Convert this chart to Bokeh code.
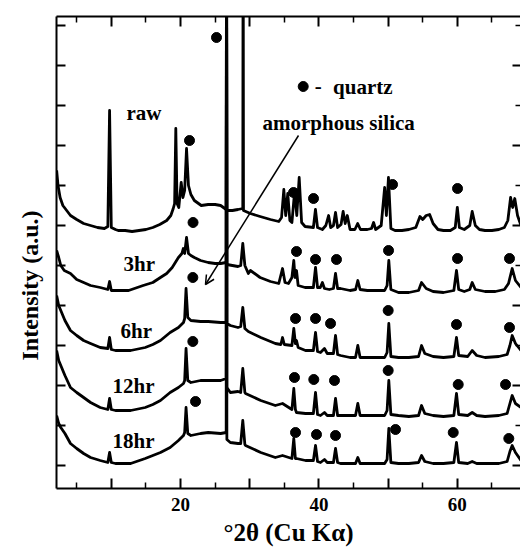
from bokeh.plotting import figure
from bokeh.models import Range1d, LinearAxis, FixedTicker, Label, Arrow, OpenHead, Title
from bokeh.embed import file_html
from bokeh.resources import INLINE

SERIF = "Liberation Serif"

# ---------------- data (2theta in degrees, intensity in a.u.) ----------------
raw_2theta = [2.1, 2.3, 2.6, 3.0, 4.1, 5.0, 6.0, 7.0, 8.0, 9.0, 9.5, 9.75, 10.0, 10.6, 11.0, 12.0,
              13.0, 14.0, 15.0, 16.0, 17.0, 18.0, 18.6, 18.95, 19.15, 19.32, 19.5, 19.75, 20.1,
              20.35, 20.6, 20.87, 21.15, 21.5, 22.0, 23.0, 24.0, 25.0, 25.8, 26.6, 26.65, 26.7,
              27.5, 28.3, 29.0, 29.05, 29.1, 30.1, 31.5, 33.0, 34.2, 34.6, 34.93, 35.2, 35.5,
              35.8, 36.1, 36.5, 36.8, 37.15, 37.5, 38.0, 39.2, 39.5, 39.8, 40.5, 41.0, 41.4, 41.7,
              42.1, 42.4, 42.7, 43.2, 43.5, 43.8, 44.1, 44.5, 45.2, 45.6, 46.0, 47.0, 47.6, 47.9,
              48.2, 49.0, 49.5, 49.75, 50.05, 50.4, 51.0, 52.0, 53.0, 54.0, 54.6, 55.0, 55.5, 56.0,
              56.5, 57.2, 58.0, 59.0, 59.7, 60.0, 60.3, 61.0, 61.8, 62.15, 62.6, 63.2, 64.0, 65.0,
              66.0, 66.8, 67.3, 67.7, 68.0, 68.3, 68.7, 69.2]
raw_int = [295, 280, 268, 260, 250, 246, 242, 240, 238, 237, 239, 355, 238, 236, 235, 235,
           234, 235, 236, 238, 241, 245, 250, 257, 262, 337, 262, 258, 283,
           268, 275, 317, 280, 271, 265, 260, 261, 261, 260, 256, 600, 255,
           255, 256, 257, 600, 255, 252, 249, 246, 244, 248, 276, 250, 272,
           245, 243, 275, 250, 288, 243, 239, 238, 256, 238, 236, 240, 250, 238,
           240, 253, 238, 241, 254, 242, 250, 236, 236, 242, 236, 236, 237, 243,
           236, 240, 278, 250, 288, 237, 235, 235, 236, 238, 249, 246, 250, 251,
           242, 236, 235, 235, 238, 258, 238, 236, 240, 254, 240, 236, 235, 235,
           236, 238, 245, 268, 258, 267, 250, 240]

h3_2theta = [2.1, 2.4, 2.7, 3.2, 4.1, 5.0, 6.0, 7.0, 8.4, 9.5, 9.75, 10.0, 11.0, 12.5, 14.6, 16.0,
             17.1, 18.0, 18.8, 19.7, 20.2, 20.4, 20.6, 20.87, 21.15, 21.5, 22.0, 22.9, 24.0, 25.0,
             25.8, 26.6, 26.65, 26.7, 27.5, 28.3, 28.7, 29.0, 29.3, 29.8, 30.1, 31.5, 33.0, 34.2,
             34.74, 35.1, 35.6, 36.1, 36.37, 36.55, 36.76, 37.0, 38.0, 39.2, 39.51, 39.8, 40.2,
             40.5, 40.8, 41.5, 42.1, 42.4, 42.7, 43.12, 44.5, 45.3, 45.62, 45.95, 47.0, 48.0, 49.5,
             49.85, 50.1, 50.4, 51.5, 53.0, 54.4, 54.83, 55.5, 56.5, 58.0, 59.5, 59.88, 60.2, 61.0,
             61.8, 62.15, 62.6, 64.0, 65.5, 66.8, 67.4, 67.93, 68.4, 69.2]
h3_int = [215, 208, 200, 195, 192, 186, 183, 180, 178, 176, 184, 175, 175, 175, 180, 183,
          188, 192, 198, 208, 212, 217, 212, 228, 212, 210, 208, 205, 203, 202,
          202, 203, 600, 201, 200, 199, 200, 222, 200, 192, 195, 188, 184, 182,
          197, 183, 182, 188, 205, 188, 195, 180, 178, 178, 198, 178, 178,
          183, 177, 176, 177, 192, 177, 177, 175, 176, 185, 176, 175, 175, 175,
          180, 205, 176, 173, 173, 175, 183, 177, 174, 173, 175, 195, 176, 174,
          176, 183, 176, 174, 174, 176, 182, 197, 185, 178]

h6_2theta = [2.1, 2.4, 2.7, 3.3, 4.1, 5.0, 6.0, 7.0, 8.4, 9.5, 9.75, 10.0, 10.6, 12.8, 14.9, 16.0,
             17.1, 18.5, 19.7, 20.43, 20.6, 20.8, 21.05, 21.5, 22.9, 24.0, 25.8, 26.6, 26.65,
             26.7, 27.2, 28.3, 28.7, 29.0, 29.3, 29.8, 31.6, 33.7, 34.5, 34.74, 35.0, 36.1, 36.37,
             36.6, 36.76, 37.0, 38.06, 39.2, 39.51, 39.8, 40.23, 40.8, 41.2, 42.1, 42.4, 42.7,
             43.12, 44.5, 45.29, 45.62, 45.95, 47.0, 49.5, 49.85, 50.1, 50.4, 51.5, 53.0, 54.4,
             54.83, 55.3, 56.5, 58.0, 59.5, 59.88, 60.2, 61.5, 62.15, 62.8, 64.0, 66.0, 67.2, 67.6,
             67.93, 68.4, 69.2]
h6_int = [170, 160, 155, 145, 135, 130, 125, 122, 118, 117, 128, 116, 115, 115, 118, 121,
          125, 133, 138, 143, 147, 177, 148, 145, 144, 144, 143, 143, 600,
          142, 140, 138, 139, 158, 137, 134, 128, 122, 121, 128, 121, 120, 137,
          122, 125, 118, 115, 115, 133, 114, 113, 117, 112, 112, 130, 111,
          110, 108, 108, 120, 108, 108, 108, 113, 142, 109, 108, 108, 109,
          120, 112, 109, 108, 109, 128, 110, 109, 115, 110, 108, 109, 111, 120,
          130, 122, 115]

h12_2theta = [2.1, 2.4, 2.7, 3.3, 4.1, 5.0, 6.0, 7.0, 8.4, 9.5, 9.75, 10.0, 10.6, 12.8, 14.9, 16.0,
              17.1, 18.5, 19.7, 20.43, 20.6, 20.8, 21.05, 21.5, 22.9, 24.0, 25.8, 26.6, 26.65,
              26.7, 27.2, 28.3, 28.7, 29.0, 29.3, 29.4, 31.6, 33.7, 34.74, 36.1, 36.37, 36.6,
              36.76, 38.06, 39.2, 39.51, 39.8, 40.23, 40.8, 41.2, 42.1, 42.4, 42.7, 43.12, 45.29,
              45.62, 45.95, 47.0, 49.5, 49.85, 50.1, 50.4, 51.5, 53.0, 54.4, 54.83, 55.3, 56.5,
              58.0, 59.5, 59.88, 60.2, 61.5, 62.15, 62.8, 64.0, 66.0, 67.2, 67.6, 67.93, 68.4, 69.2]
h12_int = [115, 105, 100, 90, 78, 73, 68, 63, 58, 56, 67, 56, 55, 55, 58, 61,
           65, 73, 78, 82, 85, 117, 85, 83, 85, 85, 85, 87, 600,
           78, 73, 74, 73, 97, 73, 72, 65, 60, 62, 56, 77, 56,
           53, 52, 52, 73, 51, 50, 53, 50, 50, 67, 50, 50, 50,
           62, 50, 50, 50, 55, 85, 51, 50, 49, 50, 60, 52, 50,
           49, 50, 72, 51, 50, 53, 50, 49, 50, 52, 62, 70, 62, 58]

h18_2theta = [2.1, 2.4, 2.7, 3.3, 4.1, 5.0, 6.0, 7.0, 8.4, 9.5, 9.75, 10.0, 10.6, 12.8, 14.9, 16.0,
              17.1, 18.5, 19.7, 20.43, 20.6, 20.8, 21.05, 21.5, 22.9, 24.0, 25.8, 26.6, 26.65,
              26.7, 27.2, 28.3, 28.7, 29.0, 29.3, 29.4, 31.6, 33.7, 34.74, 36.1, 36.37, 36.6,
              36.76, 38.06, 39.2, 39.51, 39.8, 40.23, 40.8, 41.2, 42.1, 42.4, 42.7, 43.12, 45.29,
              45.62, 45.95, 47.0, 49.5, 49.85, 50.1, 50.4, 51.5, 53.0, 54.4, 54.83, 55.3, 56.5,
              58.0, 59.5, 59.88, 60.2, 61.5, 62.15, 62.8, 64.0, 66.0, 67.2, 67.6, 67.93, 68.4, 69.2]
h18_int = [50, 42, 38, 32, 22, 17, 12, 8, 5, 3, 13, 3, 2, 2, 7, 10,
           13, 18, 25, 30, 33, 58, 32, 30, 32, 33, 32, 33, 600,
           26, 23, 22, 22, 45, 21, 20, 13, 8, 10, 7, 27, 7,
           7, 5, 5, 20, 4, 3, 6, 3, 3, 17, 3, 2, 2,
           8, 2, 2, 2, 6, 37, 3, 2, 2, 3, 10, 4, 2,
           2, 3, 23, 3, 2, 4, 2, 2, 2, 4, 14, 20, 13, 5]

# quartz reflection markers for each pattern
raw_qz_2theta = [25.2, 21.3, 36.33, 39.22, 50.64, 60.03]
raw_qz_int = [428, 325, 273, 267, 281, 277]
h3_qz_2theta = [21.81, 36.76, 39.51, 42.54, 50.06, 60.03, 67.54]
h3_qz_int = [243, 214, 206, 206, 215, 207, 207]
h6_qz_2theta = [21.78, 36.62, 39.51, 41.68, 50.01, 59.88, 67.54]
h6_qz_int = [188, 147, 147, 142, 155, 141, 138]
h12_qz_2theta = [21.78, 36.47, 39.26, 42.25, 50.01, 60.13, 66.97]
h12_qz_int = [124, 88, 86, 85, 95, 81, 81]
h18_qz_2theta = [22.17, 36.62, 39.65, 42.4, 51.07, 59.41, 67.44]
h18_qz_int = [64, 33, 31, 30, 36, 33, 27]

sample_names = ["raw", "3hr", "6hr", "12hr", "18hr"]

x_major_ticks = [10, 20, 30, 40, 50, 60]
x_minor_ticks = [5, 15, 25, 35, 45, 55, 65]
x_tick_labels = {10: "", 20: "20", 30: "", 40: "40", 50: "", 60: "60"}
y_left_ticks = [0, 40, 80, 120, 160, 200, 240, 280, 320, 360, 400, 440]
y_right_major = [0, 80, 160, 240, 320, 400]
y_right_minor = [40, 120, 200, 280, 360, 440]

# ---------------- figure ----------------
p = figure(width=520, height=551, output_backend="svg", toolbar_location=None, title=None,
           x_range=Range1d(2.08, 69.13), y_range=Range1d(-23, 449),
           x_axis_type=None, y_axis_type=None,
           min_border_left=56, min_border_right=0, min_border_top=16, min_border_bottom=63)
p.outline_line_color = None
p.background_fill_color = "white"
p.border_fill_color = "white"


def style_axis(ax, tick_in, minor_in, labels, line=True):
    ax.major_tick_in = tick_in
    ax.major_tick_out = 0
    ax.minor_tick_in = minor_in
    ax.minor_tick_out = 0
    ax.axis_line_width = 2
    ax.axis_line_color = "black" if line else None
    ax.major_tick_line_width = 2
    ax.minor_tick_line_width = 1.5
    ax.major_label_overrides = labels
    ax.major_label_text_font = SERIF
    ax.major_label_text_font_style = "bold"
    ax.major_label_text_font_size = "19px"
    ax.major_label_text_color = "black"


bottom = LinearAxis(ticker=FixedTicker(ticks=x_major_ticks, minor_ticks=x_minor_ticks))
style_axis(bottom, 10, 6, x_tick_labels)
bottom.major_label_standoff = 9
bottom.axis_label = "°2θ (Cu Kα)"
bottom.axis_label_text_font = SERIF
bottom.axis_label_text_font_style = "bold"
bottom.axis_label_text_font_size = "25px"
bottom.axis_label_text_color = "black"
bottom.axis_label_standoff = 5
p.add_layout(bottom, "below")

top = LinearAxis(ticker=FixedTicker(ticks=x_major_ticks, minor_ticks=x_minor_ticks))
style_axis(top, 10, 6, {t: "" for t in x_major_ticks})
top.major_label_standoff = 0
p.add_layout(top, "above")

left = LinearAxis(ticker=FixedTicker(ticks=y_left_ticks, minor_ticks=[]))
style_axis(left, 9, 0, {t: "" for t in y_left_ticks})
left.major_label_standoff = 0
p.add_layout(left, "left")

right = LinearAxis(ticker=FixedTicker(ticks=y_right_major, minor_ticks=y_right_minor))
style_axis(right, 8, 5, {t: "" for t in y_right_major}, line=False)
right.major_label_standoff = 0
p.add_layout(right, "right")

ytitle = Title(text="Intensity (a.u.)", align="left", offset=128, vertical_align="middle",
               standoff=26, text_font=SERIF, text_font_style="bold", text_font_size="24px",
               text_color="black")
p.add_layout(ytitle, "left")

# ---------------- traces ----------------
traces = [(raw_2theta, raw_int), (h3_2theta, h3_int), (h6_2theta, h6_int),
          (h12_2theta, h12_int), (h18_2theta, h18_int)]
for xs, ys in traces:
    p.line(xs, ys, line_color="black", line_width=2.8, line_join="round")

markers = [(raw_qz_2theta, raw_qz_int), (h3_qz_2theta, h3_qz_int), (h6_qz_2theta, h6_qz_int),
           (h12_qz_2theta, h12_qz_int), (h18_qz_2theta, h18_qz_int)]
for xs, ys in markers:
    p.scatter(xs, ys, size=10, color="black")

# legend marker
p.scatter([37.73], [379], size=10, color="black")


def add_text(txt, x, y, size="21px", **kw):
    lab = Label(x=x, y=y, text=txt, text_font=SERIF, text_font_style="bold",
                text_font_size=size, text_color="black", **kw)
    p.add_layout(lab)


add_text("-", 39.4, 373)
add_text("quartz", 42.05, 367)
add_text("amorphous silica", 31.85, 331)
sample_label_pos = [(12.2, 341), (11.76, 190), (11.33, 123), (10.17, 68), (10.17, 13)]
for name, (lx, ly) in zip(sample_names, sample_label_pos):
    add_text(name, lx, ly)

p.add_layout(Arrow(end=OpenHead(size=9, line_width=1.5, line_color="black"),
                   x_start=37.05, y_start=330, x_end=23.61, y_end=181,
                   line_width=1.5, line_color="black"))

open("out.html", "w").write(file_html(p, INLINE))
